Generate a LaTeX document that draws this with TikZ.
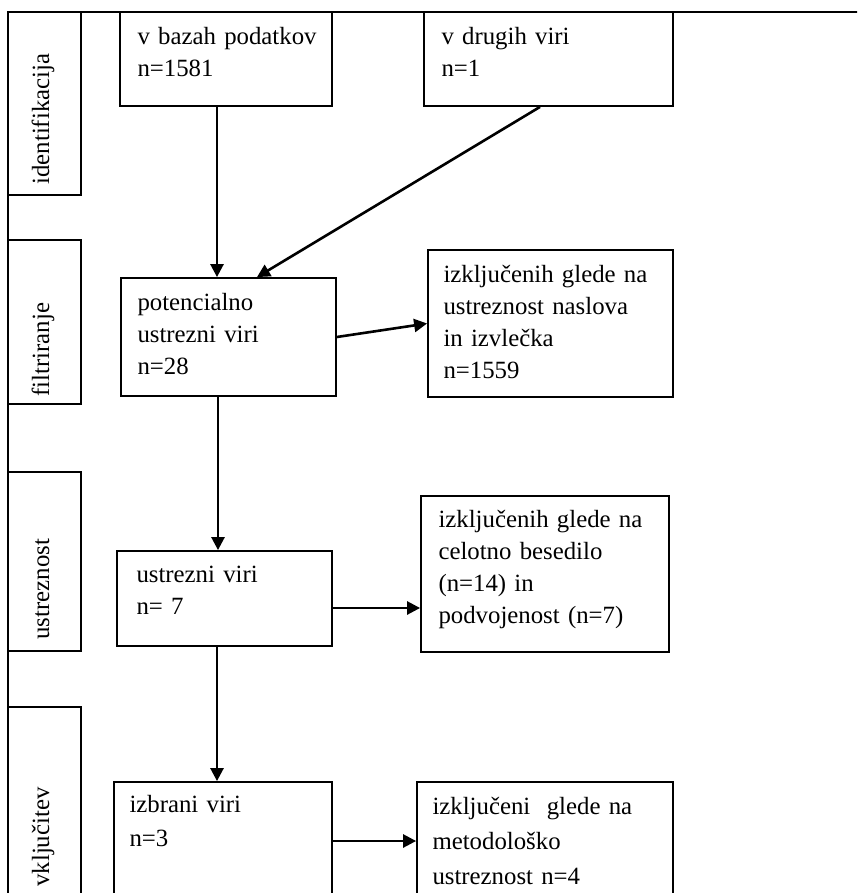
\documentclass[tikz,border=0pt]{standalone}
\usepackage{fontspec}
\setmainfont{Liberation Serif}
\usetikzlibrary{calc}
\usetikzlibrary{fit}
\usetikzlibrary{arrows.meta}
\tikzset{
  box/.style={draw, line width=0.9pt, inner sep=0pt},
  phasebox/.style={draw, line width=0.7pt, inner sep=0pt},
  txt/.style={anchor=base west, inner sep=0pt, text width=120pt, align=left,
    font=\fontsize{12.4pt}{16pt}\selectfont},
  txtwide/.style={txt, font=\fontsize{12.4pt}{17.5pt}\selectfont},
  phasetxt/.style={rotate=90, anchor=base west, inner sep=0pt,
    font=\fontsize{12.4pt}{16pt}\selectfont},
  arr/.style={line width=1.3pt, -{Triangle[length=6.5pt,width=6.5pt]}}
}
\newcommand{\flowbox}[5]{\node[box, fit={(#2,#3) (#4,#5)}] (#1) {};}
\newcommand{\phase}[5]{\node[phasebox, fit={(8,#2) (81,#3)}] (#1) {};
  \node[phasetxt] (#1txt) at (49,#5) {#4};}

\begin{document}
\begin{tikzpicture}[x=0.5pt, y=-0.5pt]
        \useasboundingbox (0,0) rectangle (857,893);
        \clip (0,0) rectangle (857,893);
        % frame
        \draw[line width=0.7pt] (8,905) -- (8,12) -- (862,12);
        % phases
        \phase{id}{12}{195}{identifikacija}{185}
        \phase{fi}{240}{404}{filtriranje}{397}
        \phase{ut}{472}{651}{ustreznost}{640}
        \phase{vk}{707}{905}{vključitev}{887}
        % boxes
        \flowbox{db}{120}{12}{332}{106}
        \flowbox{dr}{424}{12}{673}{106}
        \flowbox{pot}{121}{278}{336}{396}
        \flowbox{ex1}{428}{250}{673}{397}
        \flowbox{us}{117}{551}{332}{646}
        \flowbox{ex2}{421}{496}{669}{652}
        \flowbox{sel}{114}{782}{332}{900}
        \flowbox{ex3}{417}{782}{673}{900}
        % texts
        \node[txt] (dbtxt) at ($(db.north west)+(18,33)$) {v bazah podatkov\\n=1581};
        \node[txt] (drtxt) at ($(dr.north west)+(18,33)$) {v drugih viri\\n=1};
        \node[txt] (pottxt) at ($(pot.north west)+(17,33)$) {potencialno\\ustrezni viri\\n=28};
        \node[txt] (ex1txt) at ($(ex1.north west)+(16,33)$) {izključenih glede na\\ustreznost naslova\\in izvlečka\\n=1559};
        \node[txt] (ustxt) at ($(us.north west)+(20,32)$) {ustrezni viri\\n= 7};
        \node[txt] (ex2txt) at ($(ex2.north west)+(18,32)$) {izključenih glede na\\celotno besedilo\\(n=14) in\\podvojenost (n=7)};
        \node[txt, font=\fontsize{12.4pt}{17pt}\selectfont] (seltxt) at ($(sel.north west)+(16,31)$) {izbrani viri\\n=3};
        \node[txtwide] (ex3txt) at ($(ex3.north west)+(16,33)$) {izključeni~ glede na\\metodološko\\ustreznost n=4};
        % arrows
        \draw[arr] ([xshift=-4.5pt]db.south) -- ([xshift=-4.5pt]db.south |- pot.north);
        \draw[arr] ([xshift=-4.25pt]dr.south) -- ([xshift=14.25pt]pot.north);
        \draw[arr] (pot.east) -- (ex1.west);
        \draw[arr] ([xshift=-5.25pt]pot.south) -- ([xshift=-5.25pt]pot.south |- us.north);
        \draw[arr] ([yshift=-4.75pt]us.east) -- ([yshift=-4.75pt]us.east -| ex2.west);
        \draw[arr] ([xshift=-3.75pt]us.south) -- ([xshift=-3.75pt]us.south |- sel.north);
        \draw[arr] (sel.east) -- (sel.east -| ex3.west);
    \end{tikzpicture}
\end{document}
